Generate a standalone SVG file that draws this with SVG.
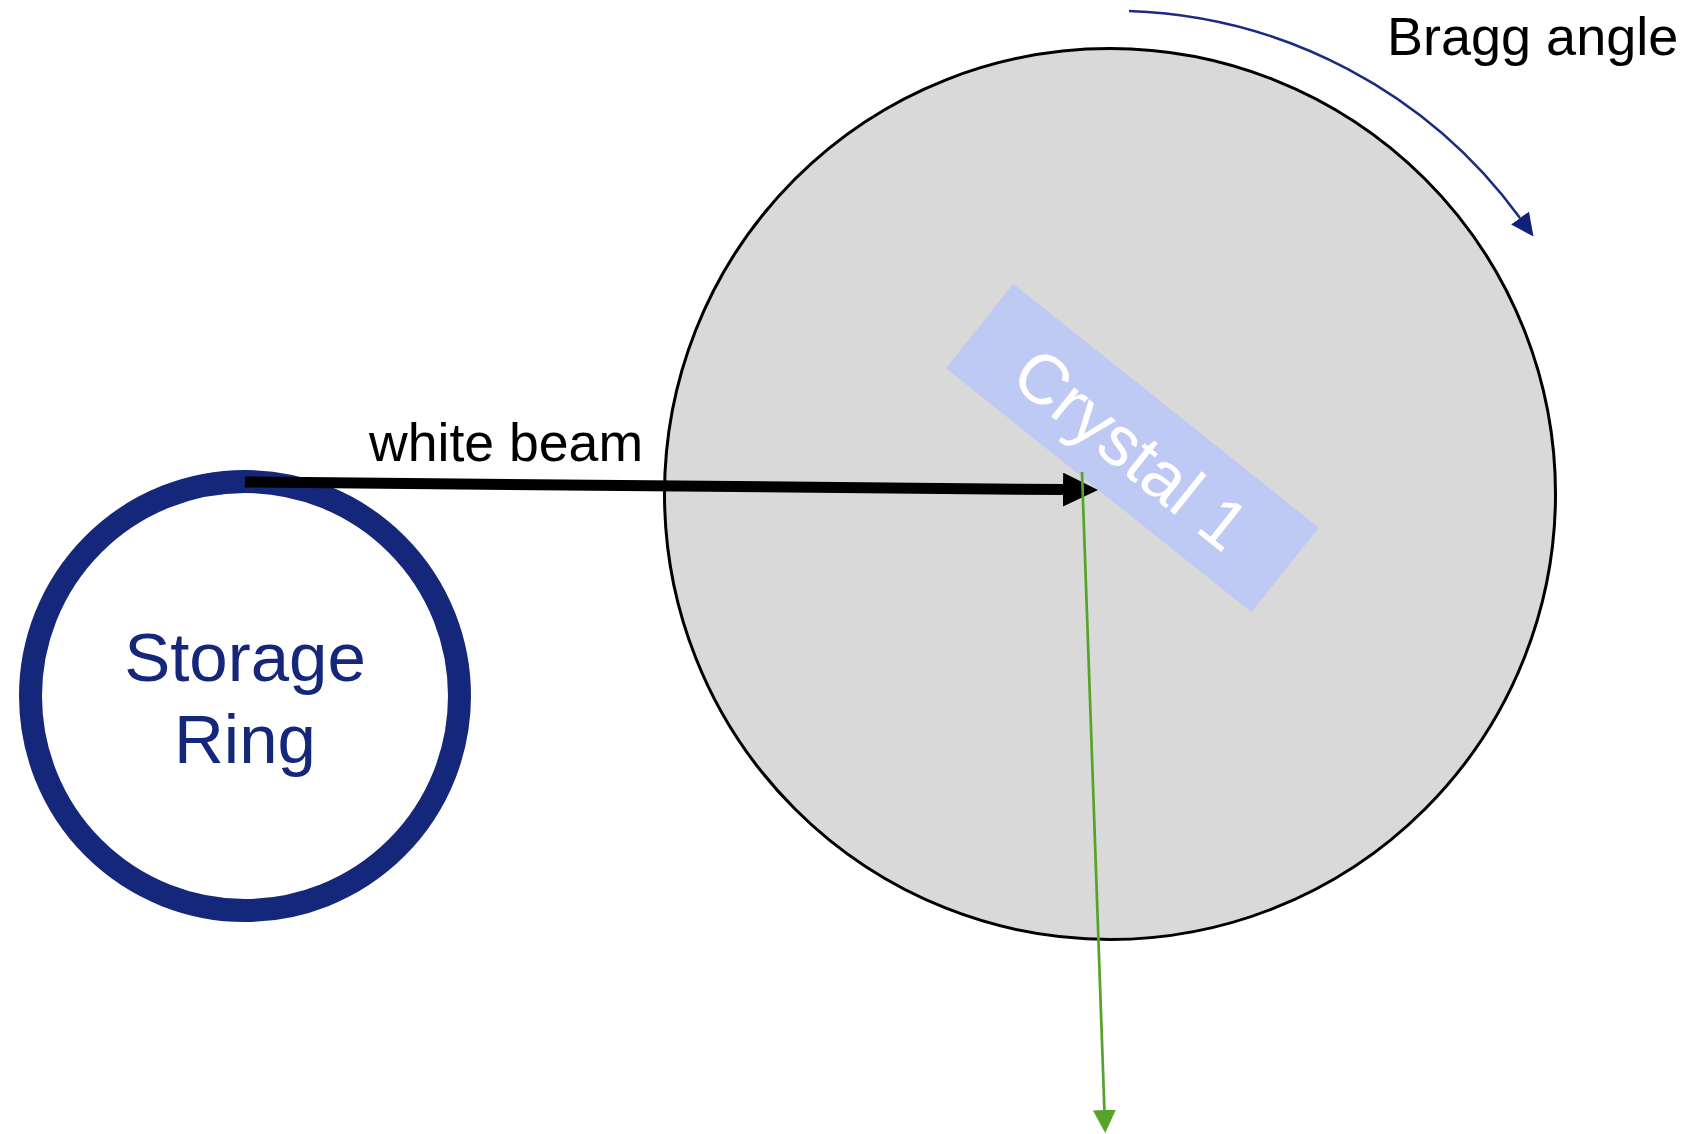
<svg xmlns="http://www.w3.org/2000/svg" width="1688" height="1134" viewBox="0 0 1688 1134">
  <style>
    .lbl { font-family: "Liberation Sans", Arial, sans-serif; }
    .black { fill: #000000; }
    .navy { fill: #15277a; }
  </style>
  <defs>
    <marker id="headBeam" markerUnits="userSpaceOnUse" viewBox="0 0 35 34" markerWidth="35" markerHeight="34" refX="0" refY="17" orient="auto">
      <path d="M0,0 L35,17 L0,34 z" fill="#000000"/>
    </marker>
    <marker id="headGreen" markerUnits="userSpaceOnUse" viewBox="0 0 23 23" markerWidth="23" markerHeight="23" refX="0" refY="11.5" orient="auto">
      <path d="M0,0 L23,11.5 L0,23 z" fill="#56a32a"/>
    </marker>
    <marker id="headNavy" markerUnits="userSpaceOnUse" viewBox="0 0 23 22" markerWidth="23" markerHeight="22" refX="0" refY="11" orient="auto">
      <path d="M0,0 L23,11 L0,22 z" fill="#10217a"/>
    </marker>
  </defs>

  <rect x="0" y="0" width="1688" height="1134" fill="#ffffff"/>

  <g id="goniometer">
    <circle cx="1110" cy="494" r="445.5" fill="#d9d9d9" stroke="#000000" stroke-width="3"/>
  </g>

  <g id="crystal1">
    <rect x="-195.5" y="-54" width="391" height="108" fill="#bfcaf4" transform="translate(1132.4,448) rotate(38.6)"/>
    <text class="lbl" x="1116" y="468" font-size="70" fill="#ffffff" text-anchor="middle" transform="rotate(38.6 1116 468)">Crystal 1</text>
  </g>

  <g id="storage-ring">
    <circle cx="245" cy="696" r="214.5" fill="#ffffff" stroke="#15277a" stroke-width="23"/>
    <text class="lbl navy" x="245" y="681" font-size="69" text-anchor="middle">Storage</text>
    <text class="lbl navy" x="245" y="763" font-size="69" text-anchor="middle">Ring</text>
  </g>

  <g id="labels">
    <text class="lbl black" x="369" y="461" font-size="53.6">white beam</text>
    <text class="lbl black" x="1387" y="55" font-size="54">Bragg angle</text>
  </g>

  <g id="connectors">
    <path id="bragg-arrow" d="M1129,11 A505,505 0 0 1 1520,218" fill="none" stroke="#1a2b80" stroke-width="2.5" marker-end="url(#headNavy)"/>
    <path id="white-beam" d="M245,482 L1063,489.6" fill="none" stroke="#000000" stroke-width="11" marker-end="url(#headBeam)"/>
    <path id="diffracted-beam" d="M1082,472 L1104.4,1110" fill="none" stroke="#56a32a" stroke-width="2.7" marker-end="url(#headGreen)"/>
  </g>
</svg>
